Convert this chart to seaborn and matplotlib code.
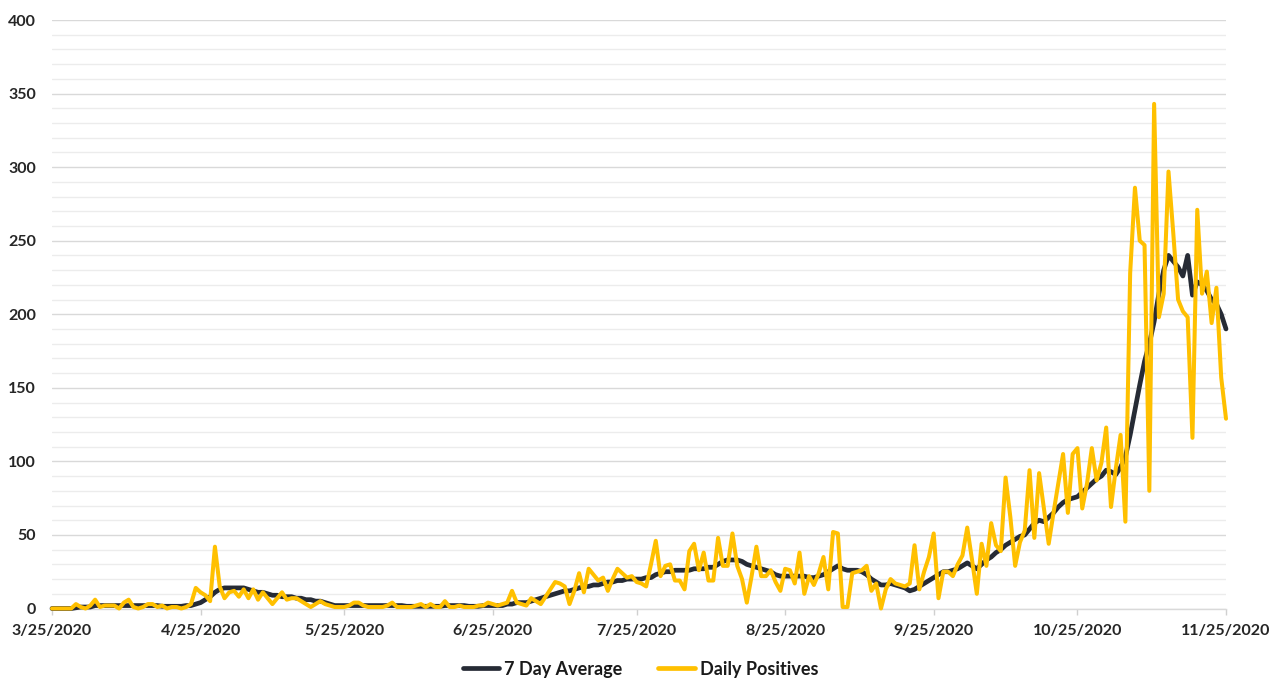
import numpy as np
import pandas as pd
import matplotlib
matplotlib.use("Agg")
import matplotlib.pyplot as plt
import seaborn as sns
from matplotlib.ticker import MultipleLocator
from matplotlib.lines import Line2D

# ---------------- data ----------------
start_date = "2020-03-25"
end_date = "2020-11-25"

daily_positives = [
    0, 0, 0, 0, 0, 3, 1, 0, 2, 6,
    1, 2, 2, 2, 0, 4, 6, 1, 0, 1,
    3, 3, 1, 2, 0, 1, 1, 0, 1, 3,
    14, 11, 9, 5, 42, 15, 7, 11, 12, 8,
    13, 7, 13, 6, 11, 7, 3, 7, 11, 6,
    7, 7, 5, 3, 1, 3, 5, 3, 2, 1,
    1, 1, 2, 4, 4, 2, 1, 1, 1, 1,
    2, 4, 1, 1, 1, 1, 2, 3, 1, 3,
    1, 1, 5, 1, 1, 2, 1, 1, 1, 2,
    2, 4, 3, 2, 3, 4, 12, 4, 3, 2,
    7, 5, 3, 8, 13, 18, 17, 15, 3, 12,
    24, 11, 27, 23, 19, 21, 12, 20, 27, 24,
    21, 22, 18, 17, 15, 30, 46, 22, 29, 30,
    19, 19, 13, 39, 44, 26, 38, 19, 19, 48,
    29, 29, 51, 29, 20, 4, 22, 42, 22, 22,
    26, 18, 12, 27, 26, 17, 38, 10, 22, 16,
    24, 35, 13, 52, 51, 1, 1, 24, 25, 26,
    29, 12, 17, 0, 13, 20, 17, 16, 15, 17,
    43, 13, 25, 35, 51, 7, 25, 25, 22, 30,
    36, 55, 33, 10, 44, 29, 58, 43, 39, 89,
    62, 29, 45, 53, 94, 48, 92, 68, 44, 65,
    85, 105, 65, 105, 109, 68, 85, 109, 87, 99,
    123, 69, 95, 118, 59, 228, 286, 250, 247, 80,
    343, 198, 214, 297, 255, 210, 202, 198, 116, 271,
    214, 229, 194, 218, 157, 129,
]

seven_day_avg = [
    0, 0, 0, 0, 0, 0.5, 1, 1, 1, 2,
    2, 2, 2, 2, 2, 2, 2, 2, 2, 2,
    2, 2, 2, 1.5, 1.5, 1.5, 1.5, 1.5, 2, 2,
    3, 4, 6, 8, 11, 13, 14, 14, 14, 14,
    14, 13, 12, 11, 11, 10, 9, 9, 8, 8,
    8, 7, 7, 6, 6, 5, 5, 4, 3, 2,
    2, 2, 2, 2, 2, 2, 2, 2, 2, 2,
    2, 2, 2, 2, 1.5, 1.5, 1.5, 1.5, 1.5, 1.5,
    1.5, 1.5, 2, 2, 2, 2, 2, 1.5, 1.5, 1.5,
    2, 2, 2, 2, 2, 3, 3, 4, 4, 4,
    5, 6, 7, 8, 9, 10, 11, 12, 12, 13,
    14, 15, 15, 16, 16, 17, 18, 18, 19, 19,
    20, 20, 20, 20, 21, 21, 23, 24, 25, 25,
    26, 26, 26, 26, 27, 27, 27, 28, 28, 30,
    32, 33, 33, 33, 32, 30, 29, 28, 27, 26,
    25, 23, 22, 22, 22, 22, 22, 22, 21, 21,
    22, 23, 25, 27, 29, 27, 26, 26, 26, 25,
    23, 20, 18, 16, 16, 17, 16, 15, 14, 12,
    13, 15, 17, 19, 21, 23, 25, 25, 26, 27,
    29, 31, 29, 27, 30, 33, 35, 38, 40, 43,
    45, 47, 49, 50, 54, 58, 60, 59, 62, 65,
    69, 72, 74, 75, 76, 79, 82, 85, 88, 90,
    94, 93, 91, 96, 103, 118, 135, 152, 168, 180,
    195, 214, 230, 240, 236, 232, 226, 240, 213, 222,
    220, 216, 210, 207, 200, 190,
]

tick_dates = ["2020-03-25", "2020-04-25", "2020-05-25", "2020-06-25", "2020-07-25",
              "2020-08-25", "2020-09-25", "2020-10-25", "2020-11-25"]
tick_labels = ["3/25/2020", "4/25/2020", "5/25/2020", "6/25/2020", "7/25/2020",
               "8/25/2020", "9/25/2020", "10/25/2020", "11/25/2020"]
series_names = ["7 Day Average", "Daily Positives"]

# ---------------- figure ----------------
dates = pd.date_range(start_date, end_date, freq="D")
df = pd.DataFrame({"date": dates,
                   series_names[0]: seven_day_avg,
                   series_names[1]: daily_positives})

sns.set_theme(style="white")
plt.rcParams["font.family"] = ["Lato", "DejaVu Sans"]

W, H = 1281, 680
fig = plt.figure(figsize=(W / 100, H / 100), dpi=100)
ax = fig.add_axes([52 / W, 71.5 / H, (1226 - 52) / W, 588.5 / H])

col_avg = "#262B35"
col_daily = "#FFC000"

sns.lineplot(data=df, x="date", y=series_names[0], ax=ax, color=col_avg,
             linewidth=3.4, clip_on=False, zorder=3)
sns.lineplot(data=df, x="date", y=series_names[1], ax=ax, color=col_daily,
             linewidth=2.9, clip_on=False, zorder=4)

ax.set_xlim(dates[0], dates[-1])
ax.set_ylim(0, 400)
ax.set_xlabel("")
ax.set_ylabel("")

ax.yaxis.set_major_locator(MultipleLocator(50))
ax.yaxis.set_minor_locator(MultipleLocator(10))
ax.grid(False)
ax.grid(which="minor", axis="y", color="#ececec", linewidth=1.0)
ax.grid(which="major", axis="y", color="#d9d9d9", linewidth=1.0)
ax.set_axisbelow(True)

ax.set_xticks(pd.to_datetime(tick_dates))
ax.set_xticklabels(tick_labels)
ax.xaxis.set_minor_locator(matplotlib.ticker.NullLocator())

for s in ["top", "right", "left"]:
    ax.spines[s].set_visible(False)
ax.spines["bottom"].set_color("#d9d9d9")
ax.spines["bottom"].set_linewidth(1.0)
ax.spines["bottom"].set_zorder(1)

ax.tick_params(axis="x", which="major", direction="out", length=4, width=1,
               color="#d0d0d0", pad=7, labelsize=11.5, labelcolor="#262626", bottom=True)
ax.tick_params(axis="y", which="both", length=0, pad=11.5, labelsize=11.5,
               labelcolor="#262626", left=False)
for lab in ax.get_xticklabels() + ax.get_yticklabels():
    lab.set_fontweight("bold")

leg = ax.get_legend()
if leg is not None:
    leg.remove()
handles = [Line2D([0], [0], color=col_avg, lw=3.4),
           Line2D([0], [0], color=col_daily, lw=3.4)]
fig.legend(handles, series_names, loc="center", bbox_to_anchor=(0.5, 0.016),
           ncol=2, frameon=False, handlelength=2.0, handletextpad=0.3,
           columnspacing=2.0, prop={"weight": "bold", "size": 13},
           labelcolor="#1a1a1a")

fig.savefig("out.png", dpi=100)
